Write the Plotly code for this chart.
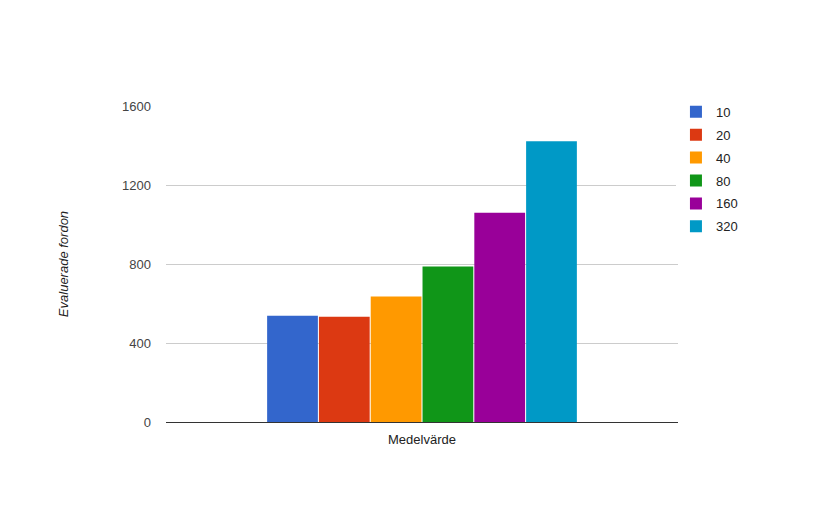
import plotly.graph_objects as go

categories = ["Medelvärde"]
series_names = ["10", "20", "40", "80", "160", "320"]
series_values = [[538], [533], [635], [787], [1059], [1422]]
colors = ["#3366cc", "#dc3912", "#ff9900", "#109618", "#990099", "#0099c6"]
y_ticks = [0, 400, 800, 1200, 1600]

fig = go.Figure()
for name, vals, col in zip(series_names, series_values, colors):
    fig.add_trace(go.Bar(x=categories, y=vals, name=name, marker_color=col,
                         marker_line_width=0, legendgroup=name))

fig.update_layout(
    width=828, height=512,
    margin=dict(l=158, r=158, t=98, b=98),
    paper_bgcolor="white", plot_bgcolor="white",
    font=dict(family="Arial, Liberation Sans", size=13, color="#222"),
    barmode="group", bargap=0.393, bargroupgap=0.02,
    legend=dict(x=0.996, y=1.029, xanchor="left", yanchor="top",
                font=dict(size=13, color="#222"), tracegroupgap=3,
                itemwidth=30),
    xaxis=dict(showgrid=False, showline=False, ticks="",
               ticklabelstandoff=8,
               tickfont=dict(size=13, color="#222")),
    yaxis=dict(range=[0, 1600], tickvals=y_ticks, showgrid=True,
               gridcolor="#cccccc", zeroline=True, zerolinecolor="#333333",
               zerolinewidth=1, tickfont=dict(size=13, color="#444"),
               ticks="", ticklen=0, ticklabelstandoff=14,
               title=dict(text="Evaluerade fordon", standoff=50,
                          font=dict(size=13, color="#222", style="italic"))),
)

fig.write_html("out.html")
